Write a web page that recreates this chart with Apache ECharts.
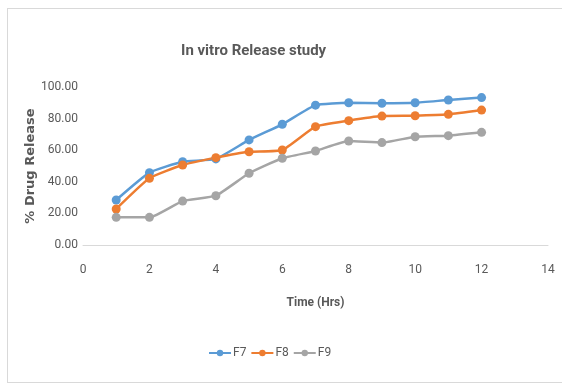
<!DOCTYPE html>
<html>
<head>
<meta charset="utf-8">
<script src="https://cdn.jsdelivr.net/npm/echarts@6/dist/echarts.min.js"></script>
<style>
  html, body { margin: 0; padding: 0; background: #fff; overflow: hidden; width: 562px; height: 385px; }
  #frame { position: absolute; left: 7px; top: 8px; width: 570px; height: 373px; border: 1px solid #d9d9d9; }
  #chart { position: absolute; left: 0; top: 0; width: 562px; height: 385px; }
</style>
</head>
<body>
<div id="frame"></div>
<div id="chart"></div>
<script>
// time points (hrs)
var hours = [1, 2, 3, 4, 5, 6, 7, 8, 9, 10, 11, 12];
// % drug release per formulation
var f7 = [28.5, 45.8, 52.7, 54.5, 66.5, 76.4, 88.5, 90.0, 89.7, 90.0, 91.8, 93.3];
var f8 = [22.8, 42.2, 50.6, 55.3, 59.0, 60.1, 74.9, 78.7, 81.6, 81.8, 82.7, 85.4];
var f9 = [17.5, 17.5, 27.8, 31.2, 45.4, 54.9, 59.5, 65.8, 64.8, 68.5, 69.2, 71.3];
var seriesNames = ['F7', 'F8', 'F9'];
var colors = ['#5b9bd5', '#ed7d31', '#a5a5a5'];

function pairs(vals) {
  var out = [];
  for (var i = 0; i < hours.length; i++) {
    out.push([hours[i], vals[i]]);
  }
  return out;
}

var font = 'Roboto, "Open Sans", sans-serif';
var chart = echarts.init(document.getElementById('chart'));
var allVals = [f7, f8, f9];
var series = [];
for (var n = 0; n < 3; n++) {
  series.push({
    name: seriesNames[n],
    type: 'line',
    data: pairs(allVals[n]),
    symbol: 'circle',
    symbolSize: 9,
    lineStyle: { width: 2.5 },
    smooth: 0.15
  });
}

chart.setOption({
  animation: false,
  color: colors,
  title: {
    text: 'In vitro Release study',
    left: 176,
    top: 39,
    textStyle: { fontFamily: font, fontSize: 15, fontWeight: 'bold', color: '#595959' }
  },
  legend: {
    data: seriesNames,
    bottom: 21,
    left: 203,
    itemWidth: 22,
    itemHeight: 8,
    itemGap: 4,
    textStyle: { fontFamily: font, fontSize: 12, color: '#595959', padding: [0, 0, 0, -3] }
  },
  grid: { left: 83, right: 14, top: 87, bottom: 140 },
  xAxis: {
    type: 'value',
    min: 0,
    max: 14,
    interval: 2,
    name: 'Time (Hrs)',
    nameLocation: 'middle',
    nameGap: 52,
    nameTextStyle: { fontFamily: font, fontSize: 12, fontWeight: 'bold', color: '#595959' },
    axisLine: { lineStyle: { color: '#d9d9d9' } },
    axisTick: { show: false },
    splitLine: { show: false },
    axisLabel: { fontFamily: font, fontSize: 12, color: '#595959', margin: 19 }
  },
  yAxis: {
    type: 'value',
    min: 0,
    max: 100,
    interval: 20,
    name: '% Drug Release',
    nameLocation: 'middle',
    nameGap: 46,
    nameMoveOverlap: false,
    nameTextStyle: { fontFamily: '"DejaVu Sans", sans-serif', fontSize: 13, fontWeight: 'bold', color: '#595959' },
    axisLine: { show: false },
    axisTick: { show: false },
    splitLine: { show: false },
    axisLabel: {
      fontFamily: font, fontSize: 12, color: '#595959', margin: 5,
      formatter: function (v) { return v.toFixed(2); }
    }
  },
  series: series
});
</script>
</body>
</html>
